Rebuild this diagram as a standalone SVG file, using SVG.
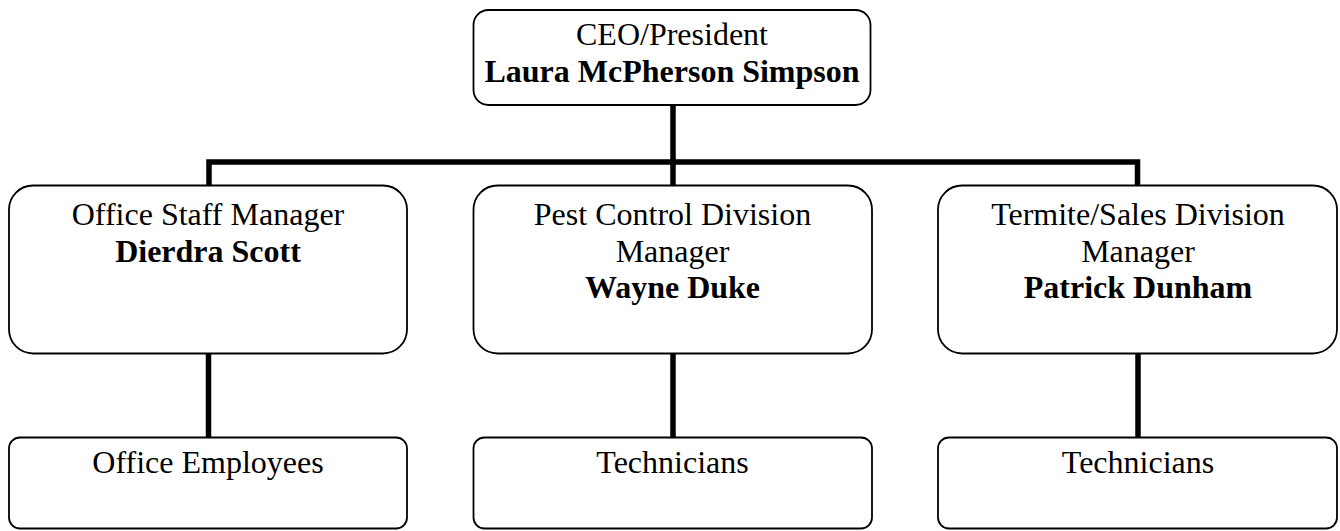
<svg xmlns="http://www.w3.org/2000/svg" width="1340" height="531" viewBox="0 0 1340 531">
  <style>
    .box { fill: #ffffff; stroke: #000000; stroke-width: 1.8; }
    .lbl { font-family: "Liberation Serif", "Times New Roman", serif; font-size: 32px; fill: #000000; text-anchor: middle; }
    .name { font-weight: bold; }
    .wire { fill: none; stroke: #000000; stroke-width: 5.5; stroke-linejoin: miter; stroke-linecap: butt; }
  </style>
  <rect width="1340" height="531" fill="#ffffff"/>

  <!-- reporting lines -->
  <g id="connectors">
    <line class="wire" x1="673" y1="105" x2="673" y2="185.5"/>
    <polyline class="wire" points="209,185.5 209,162 1137.5,162 1137.5,185.5"/>
    <line class="wire" x1="208.5" y1="353.5" x2="208.5" y2="437.5"/>
    <line class="wire" x1="673" y1="353.5" x2="673" y2="437.5"/>
    <line class="wire" x1="1138" y1="353.5" x2="1138" y2="437.5"/>
  </g>

  <!-- top level -->
  <g id="ceo">
    <rect class="box" x="473.5" y="10" width="397" height="95" rx="15" ry="15"/>
    <text class="lbl" x="672" y="45">CEO/President</text>
    <text class="lbl name" x="672" y="82">Laura McPherson Simpson</text>
  </g>

  <!-- managers -->
  <g id="office-manager">
    <rect class="box" x="9" y="185.5" width="398" height="168" rx="24" ry="24"/>
    <text class="lbl" x="208" y="225">Office Staff Manager</text>
    <text class="lbl name" x="208" y="262">Dierdra Scott</text>
  </g>
  <g id="pest-manager">
    <rect class="box" x="473.5" y="185.5" width="398.5" height="168" rx="24" ry="24"/>
    <text class="lbl" x="672.5" y="225">Pest Control Division</text>
    <text class="lbl" x="672.5" y="261.5">Manager</text>
    <text class="lbl name" x="672.5" y="298">Wayne Duke</text>
  </g>
  <g id="termite-manager">
    <rect class="box" x="938" y="185.5" width="399" height="168" rx="24" ry="24"/>
    <text class="lbl" x="1138" y="225">Termite/Sales Division</text>
    <text class="lbl" x="1138" y="261.5">Manager</text>
    <text class="lbl name" x="1138" y="298">Patrick Dunham</text>
  </g>

  <!-- staff -->
  <g id="office-employees">
    <rect class="box" x="9" y="437.5" width="398" height="91" rx="11" ry="11"/>
    <text class="lbl" x="208" y="473">Office Employees</text>
  </g>
  <g id="pest-technicians">
    <rect class="box" x="473.5" y="437.5" width="398.5" height="91" rx="11" ry="11"/>
    <text class="lbl" x="672.5" y="473">Technicians</text>
  </g>
  <g id="termite-technicians">
    <rect class="box" x="938" y="437.5" width="399" height="91" rx="11" ry="11"/>
    <text class="lbl" x="1138" y="473">Technicians</text>
  </g>
</svg>
